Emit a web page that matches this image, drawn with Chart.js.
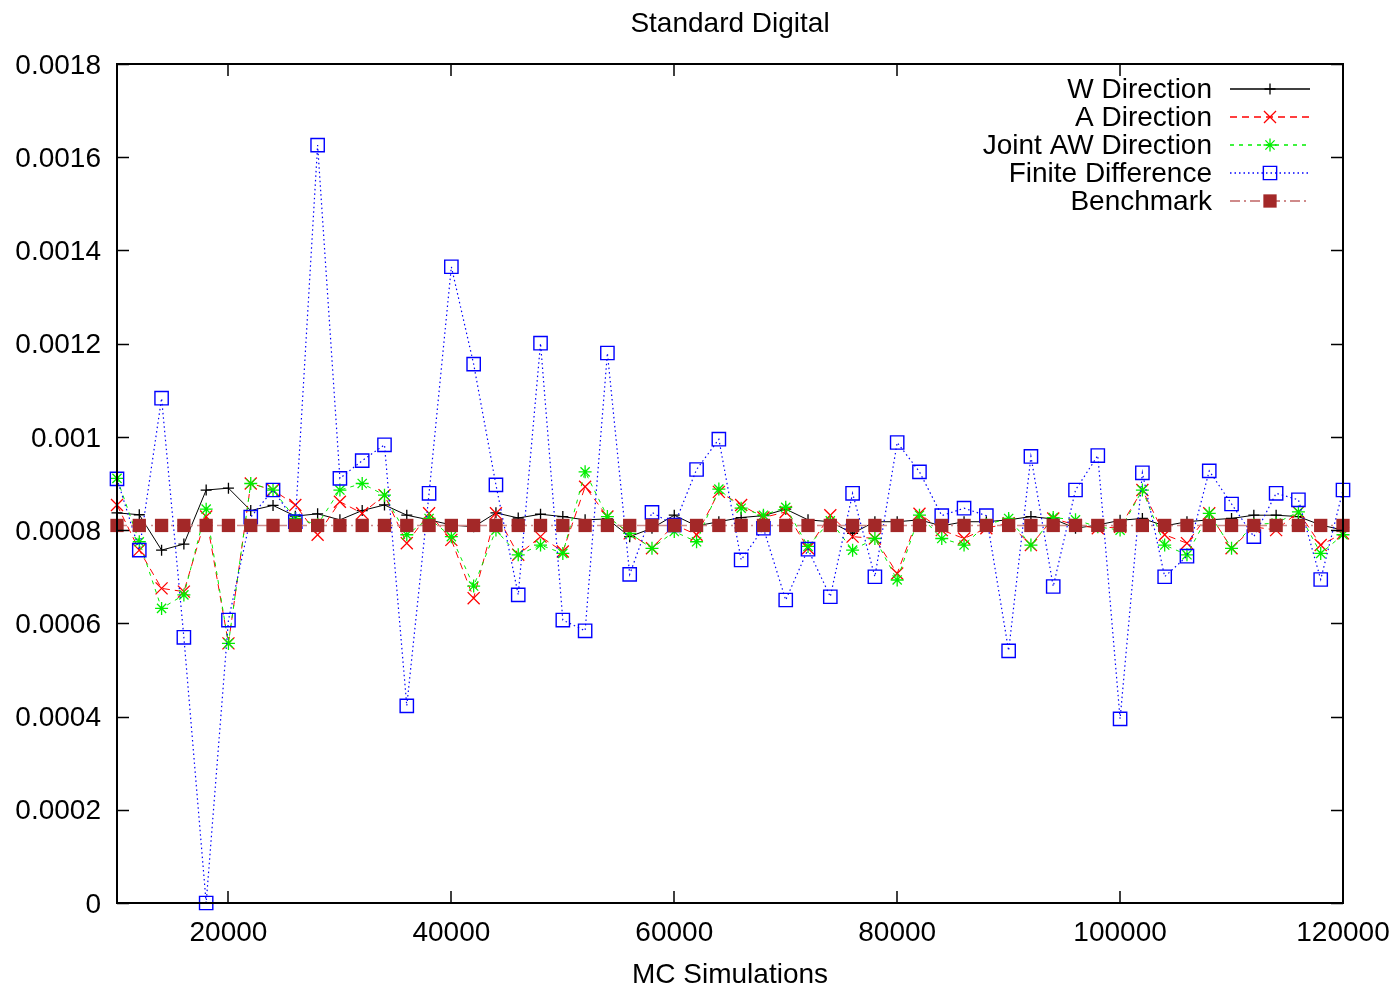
<!DOCTYPE html>
<html><head><meta charset="utf-8">
<script src="https://cdn.jsdelivr.net/npm/chart.js@4/dist/chart.umd.min.js"></script>
<style>html,body{margin:0;padding:0;background:#fff;}canvas{display:block;}</style>
</head><body>
<canvas id="c" width="1399" height="989"></canvas>
<script>
const chartTitle = "Standard Digital";
const xAxisTitle = "MC Simulations";
const seriesNames = ["W Direction", "A Direction", "Joint AW Direction", "Finite Difference", "Benchmark"];

const simulations = [10000,12000,14000,16000,18000,20000,22000,24000,26000,28000,
  30000,32000,34000,36000,38000,40000,42000,44000,46000,48000,
  50000,52000,54000,56000,58000,60000,62000,64000,66000,68000,
  70000,72000,74000,76000,78000,80000,82000,84000,86000,88000,
  90000,92000,94000,96000,98000,100000,102000,104000,106000,108000,
  110000,112000,114000,116000,118000,120000];

const wDirection = [0.000837,0.000833,0.000757,0.00077,0.000886,0.00089,0.000842,0.000853,0.00083,0.000835,
  0.000822,0.000842,0.000854,0.000832,0.000822,0.000811,0.000807,0.000837,0.000826,0.000834,
  0.000829,0.000822,0.000824,0.000786,0.000804,0.000832,0.000809,0.000818,0.000827,0.000831,
  0.000845,0.000822,0.000818,0.000793,0.000818,0.000818,0.000822,0.000809,0.000818,0.000818,
  0.000822,0.000829,0.000824,0.000804,0.000811,0.000821,0.000825,0.000809,0.000818,0.000822,
  0.000825,0.000832,0.000832,0.000829,0.000811,0.0008];

const aDirection = [0.000854,0.000757,0.000675,0.000668,0.000829,0.000557,0.0009,0.000886,0.000854,0.00079,
  0.000861,0.000836,0.000875,0.000772,0.000836,0.000779,0.000654,0.000836,0.000747,0.000786,
  0.000754,0.000893,0.000829,0.000793,0.000761,0.000812,0.00079,0.000882,0.000854,0.000827,
  0.000839,0.000761,0.000832,0.000786,0.000782,0.000707,0.000835,0.0008,0.000782,0.000804,
  0.000815,0.000768,0.000825,0.000811,0.000804,0.000807,0.000886,0.00079,0.000772,0.000836,
  0.000761,0.000807,0.0008,0.000839,0.000768,0.000793];

const jointAWDirection = [0.000911,0.000775,0.000632,0.000661,0.000845,0.000557,0.0009,0.000886,0.000825,0.000812,
  0.000886,0.0009,0.000875,0.00079,0.000825,0.000786,0.00068,0.0008,0.000747,0.000768,
  0.00075,0.000925,0.000829,0.000793,0.000761,0.000797,0.000775,0.000888,0.000847,0.000832,
  0.000849,0.000765,0.00082,0.000757,0.000782,0.000693,0.000832,0.000782,0.000768,0.000812,
  0.000825,0.000768,0.000827,0.000822,0.000807,0.0008,0.000886,0.000768,0.000747,0.000836,
  0.000761,0.000812,0.000815,0.000839,0.00075,0.00079];

const finiteDifference = [0.00091,0.000757,0.001083,0.00057,0,0.000607,0.000828,0.000886,0.000818,0.001626,
  0.000911,0.000949,0.000983,0.000423,0.000879,0.001365,0.001156,0.000897,0.000661,0.001201,
  0.000607,0.000584,0.00118,0.000705,0.000838,0.000811,0.00093,0.000995,0.000736,0.000804,
  0.00065,0.000759,0.000657,0.000879,0.0007,0.000988,0.000925,0.000831,0.000847,0.000831,
  0.000541,0.000958,0.000679,0.000886,0.00096,0.000395,0.000923,0.0007,0.000744,0.000927,
  0.000856,0.000786,0.000879,0.000865,0.000694,0.000886];

const benchmark = [0.00081,0.00081,0.00081,0.00081,0.00081,0.00081,0.00081,0.00081,0.00081,0.00081,
  0.00081,0.00081,0.00081,0.00081,0.00081,0.00081,0.00081,0.00081,0.00081,0.00081,
  0.00081,0.00081,0.00081,0.00081,0.00081,0.00081,0.00081,0.00081,0.00081,0.00081,
  0.00081,0.00081,0.00081,0.00081,0.00081,0.00081,0.00081,0.00081,0.00081,0.00081,
  0.00081,0.00081,0.00081,0.00081,0.00081,0.00081,0.00081,0.00081,0.00081,0.00081,
  0.00081,0.00081,0.00081,0.00081,0.00081,0.00081];

const xTickValues = [20000,40000,60000,80000,100000,120000];
const xTickLabels = ["20000","40000","60000","80000","100000","120000"];
const yTickValues = [0,0.0002,0.0004,0.0006,0.0008,0.001,0.0012,0.0014,0.0016,0.0018];
const yTickLabels = ["0","0.0002","0.0004","0.0006","0.0008","0.001","0.0012","0.0014","0.0016","0.0018"];

const FONT = "'Liberation Sans', Arial, Helvetica, sans-serif";
const FS = 28;
Chart.defaults.font.family = FONT;
Chart.defaults.font.size = FS;
Chart.defaults.color = '#000';

function pts(arr){ return simulations.map((x,i)=>({x:x, y:arr[i]})); }

const styles = [
  {color:'#000000', dash:[], width:1, point:'cross', r:5.5, pw:1.3, bg:'rgba(0,0,0,0)'},
  {color:'#ff0000', dash:[7,5], width:1, point:'crossRot', r:8.5, pw:1.3, bg:'rgba(0,0,0,0)'},
  {color:'#00ee00', dash:[4,5], width:1, point:'star', r:6.5, pw:1.3, bg:'rgba(0,0,0,0)'},
  {color:'#0000ff', dash:[1.5,3], width:1.2, point:'rect', r:9.4, pw:1.4, bg:'rgba(0,0,0,0)'},
  {color:'#cf8a8a', dash:[10,4,2,4], width:1.5, point:'rect', r:9.4, pw:0, bg:'#a32828', pc:'#a32828'}
];
const seriesData = [wDirection, aDirection, jointAWDirection, finiteDifference, benchmark];
const orders = [4,3,2,1,0];

const datasets = seriesData.map((d,i)=>({
  label: seriesNames[i],
  data: pts(d),
  borderColor: styles[i].color,
  borderWidth: styles[i].width,
  borderDash: styles[i].dash,
  pointStyle: styles[i].point,
  pointRadius: styles[i].r,
  pointBorderWidth: styles[i].pw,
  pointBorderColor: styles[i].pc || styles[i].color,
  pointBackgroundColor: styles[i].bg,
  pointHoverRadius: styles[i].r,
  fill: false,
  tension: 0,
  clip: false,
  order: orders[i]
}));

const framePlugin = {
  id: 'frame',
  afterDraw(chart){
    const {ctx, chartArea: a, scales} = chart;
    ctx.save();
    ctx.strokeStyle = '#000';
    ctx.lineWidth = 1.5;
    ctx.beginPath();
    yTickValues.forEach(v=>{
      const y = Math.round(scales.y.getPixelForValue(v)) + 0.5;
      ctx.moveTo(a.left, y); ctx.lineTo(a.left + 12, y);
      ctx.moveTo(a.right, y); ctx.lineTo(a.right - 12, y);
    });
    xTickValues.forEach(v=>{
      const x = Math.round(scales.x.getPixelForValue(v));
      ctx.moveTo(x, a.bottom); ctx.lineTo(x, a.bottom - 12);
      ctx.moveTo(x, a.top); ctx.lineTo(x, a.top + 12);
    });
    ctx.stroke();
    ctx.lineWidth = 2;
    ctx.strokeRect(a.left, a.top, a.right - a.left, a.bottom - a.top);

    // legend (key) inside top-right
    ctx.font = FS + 'px ' + FONT;
    ctx.textAlign = 'right';
    ctx.textBaseline = 'middle';
    const rowY0 = 89, rowH = 28, textX = 1212, lx0 = 1230, lx1 = 1310, mx = 1270;
    chart.data.datasets.forEach((ds,i)=>{
      const y = rowY0 + i*rowH;
      ctx.fillStyle = '#000';
      ctx.fillText(ds.label, textX, y + 1);
      ctx.save();
      ctx.strokeStyle = ds.borderColor;
      ctx.lineWidth = ds.borderWidth + 0.5;
      ctx.setLineDash(ds.borderDash);
      ctx.beginPath(); ctx.moveTo(lx0, y); ctx.lineTo(lx1, y); ctx.stroke();
      ctx.restore();
      ctx.save();
      ctx.strokeStyle = ds.pointBorderColor;
      ctx.fillStyle = ds.pointBackgroundColor;
      ctx.lineWidth = ds.pointBorderWidth;
      Chart.helpers.drawPoint(ctx, {pointStyle: ds.pointStyle, radius: ds.pointRadius, rotation: 0, borderWidth: ds.pointBorderWidth}, mx, y);
      ctx.restore();
    });
    ctx.restore();
  }
};

new Chart(document.getElementById('c'), {
  type: 'line',
  data: { datasets },
  options: {
    responsive: false,
    animation: false,
    devicePixelRatio: 1,
    layout: { padding: { left: 0, right: 56, top: 0, bottom: 0 } },
    plugins: {
      legend: { display: false },
      tooltip: { enabled: false },
      title: { display: true, fullSize: false, text: chartTitle, font: { size: FS, weight: 'normal', lineHeight: 1.2 }, color: '#000', padding: { top: 7, bottom: 23.4 } }
    },
    scales: {
      x: {
        type: 'linear', min: 10000, max: 120000,
        grid: { display: false, drawTicks: false },
        border: { display: false },
        afterBuildTicks(scale){ scale.ticks = xTickValues.map(v=>({value:v})); },
        ticks: { padding: 13, maxRotation: 0, autoSkip: false,
          callback(v, i){ return xTickLabels[i]; } },
        title: { display: true, text: xAxisTitle, font: { size: FS, lineHeight: 1 }, padding: { top: 0, bottom: 0 } },
        afterFit(scale){ scale.height = 86; scale.paddingRight = 0; scale.paddingLeft = 0; }
      },
      y: {
        type: 'linear', min: 0, max: 0.0018,
        grid: { display: false, drawTicks: false },
        border: { display: false },
        afterBuildTicks(scale){ scale.ticks = yTickValues.map(v=>({value:v})); },
        ticks: { padding: 16, autoSkip: false, labelOffset: 2,
          callback(v, i){ return yTickLabels[i]; } },
        afterFit(scale){ scale.width = 117; scale.paddingTop = 0; scale.paddingBottom = 0; }
      }
    }
  },
  plugins: [framePlugin]
});
</script>
</body></html>
